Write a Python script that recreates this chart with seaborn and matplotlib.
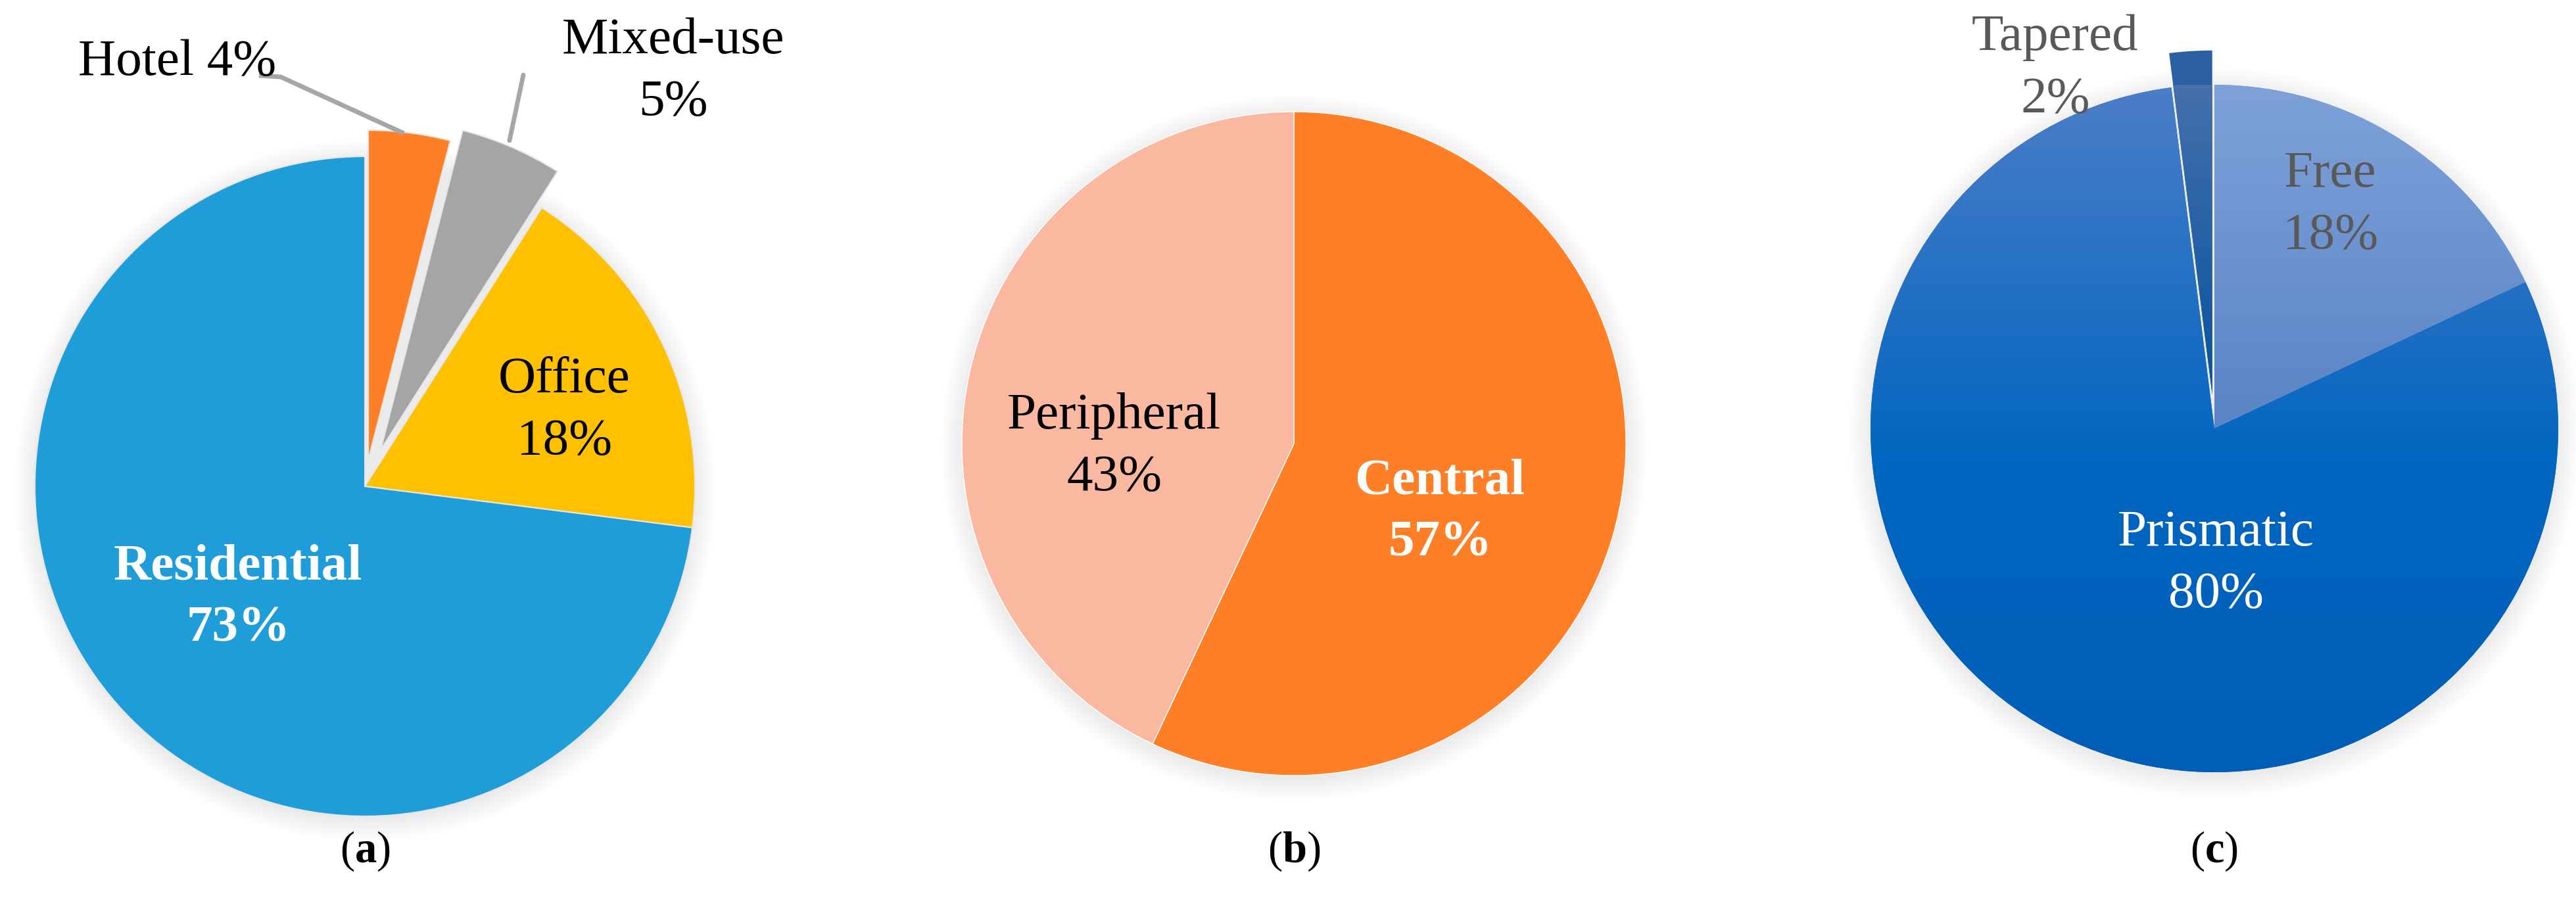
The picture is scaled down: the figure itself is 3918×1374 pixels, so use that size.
import numpy as np
import matplotlib.pyplot as plt
import seaborn as sns
from matplotlib.patches import Circle
from matplotlib.colors import LinearSegmentedColormap

# data
use_labels = ['Hotel', 'Mixed-use', 'Office', 'Residential']
use_values = [4, 5, 18, 73]
loc_labels = ['Central', 'Peripheral']
loc_values = [57, 43]
form_labels = ['Free', 'Prismatic', 'Tapered']
form_values = [18, 80, 2]

sns.set_theme(style="white")
plt.rcParams['font.family'] = ['Liberation Serif', 'DejaVu Serif']
plt.rcParams['mathtext.fontset'] = 'custom'
plt.rcParams['mathtext.rm'] = 'Liberation Serif'
plt.rcParams['mathtext.bf'] = 'Liberation Serif:bold'

W, H = 3918, 1374
FS = 57
fig = plt.figure(figsize=(W / 100, H / 100), dpi=100)


def pie_axes(cx, cy, r):
    # full-figure axes, one data unit = one pie radius, pie centred at (cx, cy) px
    ax = fig.add_axes([0, 0, 1, 1])
    return ax, (cx, cy, r)


def finish(ax, geo):
    cx, cy, r = geo
    ax.set_aspect('auto')
    ax.set_xlim(-cx / r, (W - cx) / r)
    ax.set_ylim((cy - H) / r, cy / r)
    ax.set_axis_off()


def shadow(ax):
    for k in range(10):
        ax.add_patch(Circle((0.0, -0.012), 1.0 + 0.007 * k, color='#808080',
                            alpha=0.014, lw=0, zorder=0))


def gradient(ax, wedge, stops):
    cmap = LinearSegmentedColormap.from_list('g', stops)
    grad = np.linspace(0, 1, 256).reshape(-1, 1)
    im = ax.imshow(grad, cmap=cmap, origin='lower', extent=(-1.3, 1.3, -1.0, 1.0),
                   aspect='auto', zorder=wedge.get_zorder() + 0.1)
    im.set_clip_path(wedge)


def label(ax, x, y, s, color='black', weight='normal', fs=FS):
    ax.text(x, y, s, ha='center', va='center', fontsize=fs, color=color,
            fontweight=weight, linespacing=1.42)


# (a) building use
ax, geo = pie_axes(555, 740, 502)
shadow(ax)
ax.pie(use_values, colors=['#FF7F27', '#A5A5A5', '#FFC000', '#1F9DD9'],
       startangle=90, counterclock=False, explode=[0.08, 0.12, 0, 0],
       wedgeprops=dict(edgecolor='#E6E6E6', linewidth=1.5))
ax.plot([-0.321, -0.255, 0.118], [1.245, 1.241, 1.070], color='#A6A6A6', lw=5,
        solid_capstyle='butt')
ax.plot([0.480, 0.438], [1.247, 1.048], color='#A6A6A6', lw=5)
label(ax, -0.568, 1.285, f'{use_labels[0]} {use_values[0]}%')
label(ax, 0.934, 1.257, f'{use_labels[1]}\n{use_values[1]}%')
label(ax, 0.604, 0.229, f'{use_labels[2]}\n{use_values[2]}%')
label(ax, -0.384, -0.339, f'{use_labels[3]}\n{use_values[3]}%', color='white', weight='bold')
label(ax, 0, -1.106, r'($\mathbf{a}$)', fs=48)
finish(ax, geo)

# (b) location
ax, geo = pie_axes(1968, 675, 505)
shadow(ax)
ax.pie(loc_values, colors=['#FF7F27', '#FBB8A1'], startangle=90, counterclock=False,
       wedgeprops=dict(edgecolor='white', linewidth=1))
label(ax, 0.440, -0.208, f'{loc_labels[0]}\n{loc_values[0]}%', color='white', weight='bold')
label(ax, -0.541, -0.010, f'{loc_labels[1]}\n{loc_values[1]}%')
label(ax, 0, -1.228, r'($\mathbf{b}$)', fs=48)
finish(ax, geo)

# (c) building form
ax, geo = pie_axes(3368, 652, 523)
shadow(ax)
wedges, _ = ax.pie(form_values, colors=['#6C93D0', '#1E6CC4', '#2A5FA4'],
                   startangle=90, counterclock=False, explode=[0, 0, 0.1],
                   wedgeprops=dict(linewidth=0))
gradient(ax, wedges[0], [(0, '#5A84C6'), (0.5, '#5A84C6'), (1, '#7EA1D9')])
gradient(ax, wedges[1], [(0, '#005EB8'), (0.45, '#0066C0'), (1, '#4C7DC8')])
gradient(ax, wedges[2], [(0, '#004E98'), (0.5, '#00509D'), (1, '#4470AC')])
label(ax, 0.337, 0.650, f'{form_labels[0]}\n{form_values[0]}%', color='#595959')
label(ax, 0.004, -0.394, f'{form_labels[1]}\n{form_values[1]}%', color='white')
label(ax, -0.463, 1.046, f'{form_labels[2]}\n{form_values[2]}%', color='#595959')
label(ax, 0, -1.229, r'($\mathbf{c}$)', fs=48)
finish(ax, geo)

fig.savefig('out.png', dpi=100, facecolor='white')
